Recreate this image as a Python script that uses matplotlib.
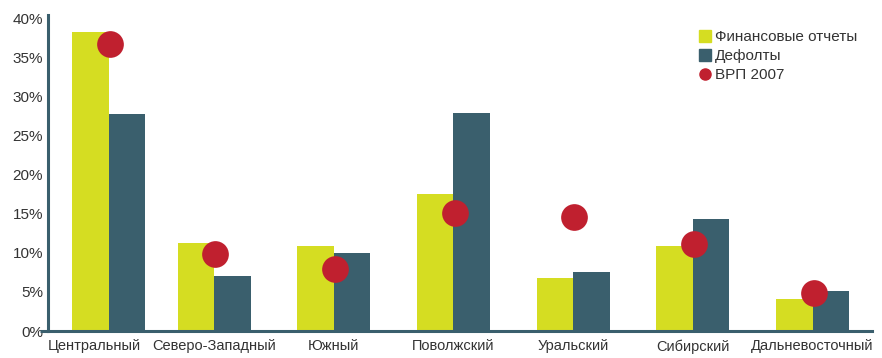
import numpy as np
import matplotlib
matplotlib.use("Agg")
from matplotlib import pyplot as plt
from matplotlib.lines import Line2D
from matplotlib.ticker import FuncFormatter

regions = ["Центральный", "Северо-Западный", "Южный", "Поволжский",
           "Уральский", "Сибирский", "Дальневосточный"]
fin_reports = [38.3, 11.3, 10.9, 17.6, 6.8, 10.9, 4.1]
defaults = [27.8, 7.0, 10.0, 28.0, 7.6, 14.4, 5.1]
grp_2007 = [36.8, 9.9, 7.9, 15.1, 14.6, 11.2, 4.9]

YELLOW = "#d5dd22"
SLATE = "#3a5f6d"
RED = "#c0202f"

plt.rcParams['font.family'] = ['Liberation Sans', 'DejaVu Sans']

fig = plt.figure(figsize=(8.82, 3.58), dpi=100)
ax = fig.add_axes([0.0544, 0.0754, 0.9343, 0.8827])

x = np.arange(len(regions), dtype=float)
# first group sits a bit to the right of its label in the original
bx = x.copy()
bx[0] += 0.12
w = 0.305
ax.bar(bx - w / 2, fin_reports, w, color=YELLOW, zorder=2)
ax.bar(bx + w / 2, defaults, w, color=SLATE, zorder=2)
ax.scatter(bx + 0.01, grp_2007, s=370, color=RED, zorder=3, linewidths=0)

ax.set_xlim(-0.387, 6.497)
ax.set_ylim(0, 40.5)
ax.set_yticks(range(0, 41, 5))
ax.yaxis.set_major_formatter(FuncFormatter(lambda v, p: f"{int(v)}%"))
ax.set_xticks(x)
ax.set_xticklabels(regions)
ax.tick_params(axis='both', length=0, labelsize=11, colors="#333333")
ax.tick_params(axis='x', labelsize=10.5, pad=6)

for s in ['top', 'right']:
    ax.spines[s].set_visible(False)
for s in ['left', 'bottom']:
    ax.spines[s].set_color(SLATE)
    ax.spines[s].set_linewidth(2.2)
# short stub of the baseline to the left of the y axis
ax.plot([-0.01, 0], [0, 0], transform=ax.transAxes, color=SLATE,
        lw=2.2, clip_on=False, solid_capstyle='butt')

handles = [
    Line2D([], [], marker='s', ls='', color=YELLOW, markersize=8),
    Line2D([], [], marker='s', ls='', color=SLATE, markersize=8),
    Line2D([], [], marker='o', ls='', color=RED, markersize=8),
]
ax.legend(handles, ["Финансовые отчеты", "Дефолты", "ВРП 2007"],
          loc='upper left', bbox_to_anchor=(0.775, 0.995), frameon=False,
          fontsize=11, handlelength=0.6, handletextpad=0.35,
          labelspacing=0.33, labelcolor="#333333")

fig.savefig("out.png", dpi=100)
